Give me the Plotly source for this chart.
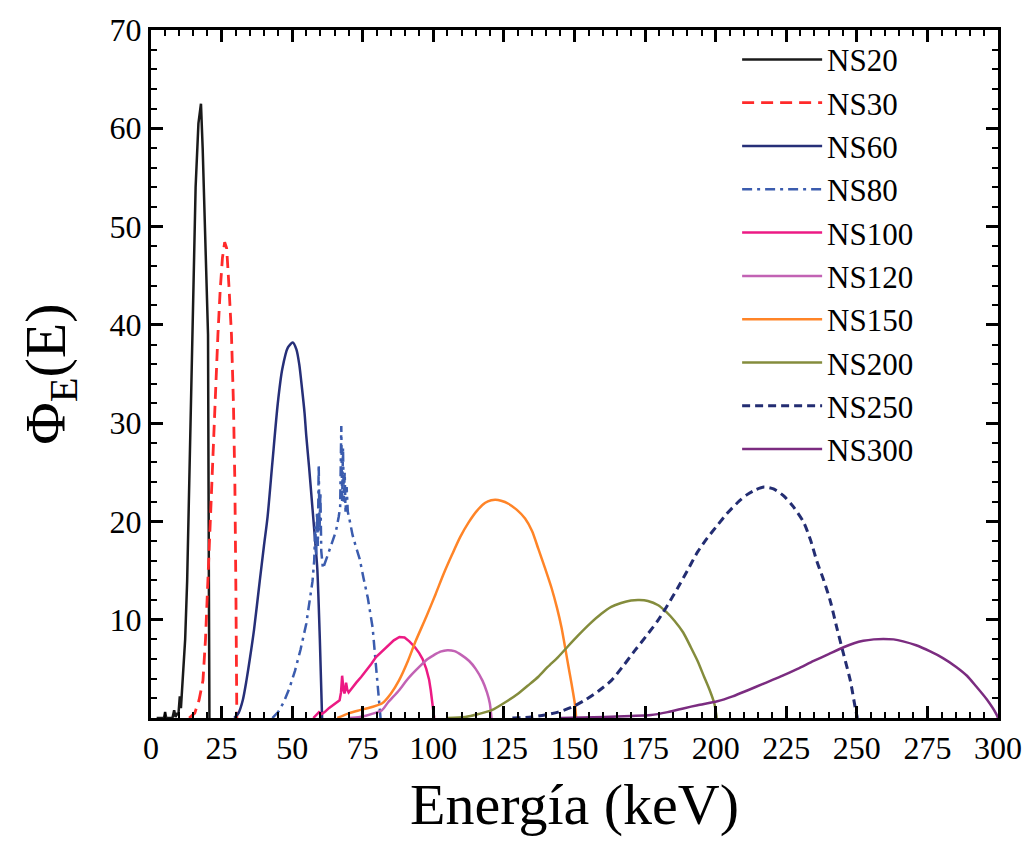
import plotly.graph_objects as go

# ---------------- data ----------------
names = ["NS20", "NS30", "NS60", "NS80", "NS100", "NS120", "NS150", "NS200", "NS250", "NS300"]

E20 = [2, 4.6, 5.0, 5.4, 7.6, 8.2, 8.7, 9.2, 9.7, 10.2, 10.6, 10.9, 11.4, 12.1, 12.8, 13.7, 14.6, 15.8, 16.8, 17.7, 18.3, 19.2, 20.2, 20.5, 20.7]
Y20 = [0, 0, 0.6, 0, 0, 0.8, 0.1, 0.5, 0.3, 2.2, 1.0, 2.5, 3.8, 8, 13.9, 26, 39, 54, 60.5, 62.5, 58, 50, 39, 14, 0]

E30 = [13.5, 15.5, 17.0, 18.4, 19.3, 20.1, 21.0, 22.0, 23.0, 23.7, 24.5, 25.3, 26.1, 26.8, 27.6, 28.5, 29.2, 29.7, 30.1, 30.4]
Y30 = [0, 0.5, 1.8, 3.8, 8, 13.9, 20, 27, 34, 39, 43.5, 46.8, 48.4, 47.8, 44, 39, 32, 24, 12, 0]

E60 = [29.5, 31.0, 32.5, 33.8, 35.0, 36.5, 38.5, 40.0, 41.3, 43.0, 44.9, 46.5, 48.5, 50.2, 51.5, 52.5, 53.5, 54.4, 55.0, 56.0, 57.0, 58.0, 58.9, 59.8, 60.6]
Y60 = [0, 0.5, 1.8, 3.8, 6, 9, 13.9, 17.5, 20.5, 26, 32, 35.5, 37.7, 38.2, 37.5, 36, 33.5, 31, 28.7, 25.5, 22, 18.5, 15.2, 8, 0]

E80 = [43, 45, 47, 49, 51, 53, 55, 57.2, 57.8, 58.2, 58.5, 58.8, 59.1, 59.4, 59.7, 60.0, 60.3, 60.9, 62.5, 64.3, 65.5, 66.5, 67.0, 67.4, 67.7, 68.0, 68.3, 68.6, 68.9, 69.3, 69.7, 70.3, 71.4, 72.5, 73.9, 75.3, 76.8, 78.5, 79.7, 80.9, 81.3]
Y80 = [0, 0.6, 1.6, 3.0, 4.8, 7.0, 9.6, 13.9, 16, 19.5, 16.5, 21, 17.5, 25.8, 19, 23, 17, 15.2, 16.5, 18, 19, 20.5, 21.5, 29.7, 22, 27.5, 22, 25, 21, 23.5, 21, 20.2, 18.6, 17.5, 16.2, 14.2, 12.2, 9.2, 5.5, 1.8, 0]

E100 = [57.5, 58.5, 59.5, 60.5, 61.5, 63, 65, 66.8, 67.3, 67.7, 68.2, 68.6, 69.1, 69.5, 70.0, 71.0, 72.7, 74.5, 76.2, 78, 79.7, 81.8, 83.8, 86, 88, 89.8, 91.5, 93.5, 95, 96.2, 97.5, 98.5, 99.1, 99.7, 100.3]
Y100 = [0, 0.3, 0.6, 0.4, 0.6, 1.0, 1.4, 1.8, 2.6, 4.3, 2.8, 2.5, 3.6, 2.9, 2.6, 3.0, 3.6, 4.2, 4.8, 5.5, 6.2, 6.8, 7.3, 7.9, 8.25, 8.2, 7.8, 7.2, 6.6, 6.0, 5.0, 3.9, 2.8, 1.5, 0]

E120 = [70, 74, 78, 81.8, 84, 87.8, 91, 95, 98, 100.2, 102.5, 105, 107.5, 110, 112.7, 115, 117.4, 119, 120, 120.6]
Y120 = [0, 0.1, 0.4, 0.8, 1.6, 2.8, 4.0, 5.2, 6.0, 6.4, 6.75, 6.9, 6.8, 6.4, 5.8, 5.0, 3.8, 2.6, 1.5, 0]

E150 = [66, 70.2, 74, 78, 81.9, 85, 87.8, 91, 93.7, 97.5, 100.8, 103.7, 106.6, 109.5, 112.5, 115.5, 118.4, 120.5, 122, 124, 126.6, 129.5, 132.5, 135, 137.2, 139.5, 141.9, 143.8, 145.4, 147.7, 149, 150.1, 150.6]
Y150 = [0, 0.5, 0.8, 1.1, 1.5, 2.5, 3.8, 5.8, 7.8, 10.3, 12.6, 14.7, 16.6, 18.4, 19.9, 21.1, 21.9, 22.15, 22.2, 22.1, 21.8, 21.2, 20.3, 19.0, 17.2, 15.3, 13.2, 11.2, 9.2, 5.5, 3.4, 1.5, 0]

E200 = [105, 111.3, 116, 120.7, 125.5, 130.1, 133.5, 137.2, 140.5, 144.2, 147.7, 151.3, 155.5, 159.5, 163, 166.5, 170, 173, 176, 179.5, 182.5, 185.4, 188.5, 191.2, 193.6, 195.9, 197.8, 199.5, 200.4]
Y200 = [0, 0.1, 0.4, 0.8, 1.6, 2.5, 3.3, 4.2, 5.2, 6.2, 7.3, 8.4, 9.6, 10.6, 11.3, 11.7, 11.95, 12.0, 11.9, 11.5, 10.8, 9.9, 8.7, 7.2, 5.8, 4.2, 2.9, 1.5, 0]

E250 = [128, 134.7, 139.5, 144.2, 149, 153.6, 158.3, 163, 167, 171.2, 175.3, 179.5, 183, 186.5, 190, 193.6, 197, 200.6, 204, 207.7, 211, 214, 217.1, 220.5, 224.1, 227.5, 231.2, 233.6, 235.9, 238.3, 240.6, 242.9, 245.3, 247.7, 249.4, 250.2]
Y250 = [0, 0.1, 0.3, 0.6, 1.1, 1.8, 2.7, 3.8, 5.2, 6.8, 8.3, 9.9, 11.5, 13.2, 15.0, 16.9, 18.3, 19.6, 20.8, 21.9, 22.7, 23.2, 23.5, 23.3, 22.6, 21.5, 19.9, 18.1, 15.9, 14.0, 11.9, 9.2, 6.5, 3.8, 1.1, 0]

E300 = [145, 160.7, 170, 177.1, 183, 188.9, 193.6, 200.6, 206, 211.2, 217, 222.9, 229, 234.7, 240, 245.3, 249, 252.3, 256, 259.4, 263, 266.4, 271, 275.8, 280.5, 285.2, 289, 292.3, 296, 299.4, 300]
Y300 = [0, 0.1, 0.2, 0.3, 0.6, 1.0, 1.3, 1.7, 2.2, 2.8, 3.5, 4.2, 5.0, 5.8, 6.5, 7.2, 7.6, 7.85, 8.0, 8.05, 8.0, 7.8, 7.4, 6.8, 6.1, 5.2, 4.3, 3.2, 1.9, 0.4, 0]

energies = [E20, E30, E60, E80, E100, E120, E150, E200, E250, E300]
fluences = [Y20, Y30, Y60, Y80, Y100, Y120, Y150, Y200, Y250, Y300]

x_ticks = [0, 25, 50, 75, 100, 125, 150, 175, 200, 225, 250, 275, 300]
y_ticks = [10, 20, 30, 40, 50, 60, 70]

# ---------------- styles ----------------
colors = ["#1a1a1a", "#ff2a2a", "#262f78", "#3b5cae", "#ec1a84",
          "#c262b4", "#ff8427", "#848c3c", "#232d72", "#7b2c80"]
dashes = ["solid", "12px,7px", "solid", "10px,5px,3px,5px", "solid",
          "solid", "solid", "solid", "8px,5px", "solid"]
widths = [2.5, 2.8, 2.5, 2.5, 2.5, 2.5, 2.5, 2.5, 3.0, 2.5]
shapes_ = ["linear", "linear", "spline", "linear", "linear",
           "spline", "spline", "spline", "spline", "spline"]

FONT = "Liberation Serif"

fig = go.Figure()
for n, e, y, c, d, w, s in zip(names, energies, fluences, colors, dashes, widths, shapes_):
    line = dict(color=c, dash=d, width=w, shape=s)
    if s == "spline":
        line["smoothing"] = 0.7
    fig.add_trace(go.Scatter(x=e, y=y, mode="lines", name=n, line=line))

axis_common = dict(
    showline=True, linecolor="black", linewidth=3, mirror="ticks",
    ticks="inside", ticklen=12, tickwidth=2.5, tickcolor="black",
    showgrid=False, zeroline=False,
    tickfont=dict(family=FONT, size=32, color="black"),
)

fig.update_xaxes(range=[0, 300], tickmode="array", tickvals=x_ticks,
                 ticktext=[str(v) for v in x_ticks],
                 minor=dict(ticks="inside", ticklen=6, tickwidth=2, tickcolor="black",
                            tickmode="linear", tick0=0, dtick=5),
                 title=dict(text="Energía (keV)", font=dict(family=FONT, size=58, color="black"),
                            standoff=18),
                 **axis_common)
fig.update_yaxes(range=[0, 70], tickmode="array", tickvals=y_ticks,
                 ticktext=[str(v) for v in y_ticks],
                 minor=dict(ticks="inside", ticklen=6, tickwidth=2, tickcolor="black",
                            tickmode="linear", tick0=0, dtick=2),
                 title=dict(text="Φ<sub>E</sub>(E)", font=dict(family=FONT, size=58, color="black"),
                            standoff=26),
                 **axis_common)

fig.update_layout(
    width=1034, height=843,
    margin=dict(l=151, r=33, t=22, b=125),
    paper_bgcolor="white", plot_bgcolor="white",
    legend=dict(x=0.692, y=0.996, xanchor="left", yanchor="top",
                font=dict(family=FONT, size=31, color="black"),
                bgcolor="rgba(0,0,0,0)", borderwidth=0, itemwidth=80,
                tracegroupgap=0),
    showlegend=True,
)

fig.write_html("out.html")
